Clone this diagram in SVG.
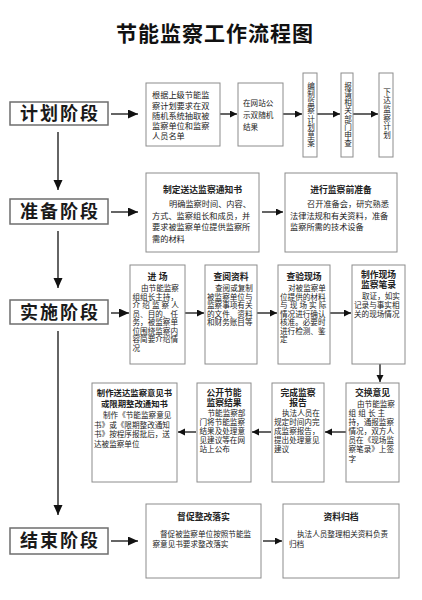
<svg xmlns="http://www.w3.org/2000/svg" width="422" height="600" viewBox="0 0 422 600">
<style>
text{font-family:"Liberation Sans","Noto Sans CJK SC",sans-serif;fill:#222;dominant-baseline:central}
.box{fill:#fff;stroke:#8c8c8c;stroke-width:1}
.phase{fill:#fff;stroke:#6e6e6e;stroke-width:1.5}
.pt{font-size:18px;font-weight:bold;letter-spacing:2px;text-anchor:middle;fill:#1a1a1a}
.title{font-size:21px;font-weight:bold;letter-spacing:1px;text-anchor:middle;fill:#111}
.h{font-size:8.8px;font-weight:bold;text-anchor:middle}
.t{font-size:8.2px}
.s{font-size:7.6px}
.v{font-size:7.6px;writing-mode:vertical-rl}
.ln{stroke:#111;stroke-width:1.3;fill:none}
.ar{stroke:#111;stroke-width:1.3;fill:none;marker-end:url(#ah)}
.arb{stroke:#111;stroke-width:1.3;fill:none;marker-end:url(#ahb)}
</style>
<defs>
<marker id="ah" markerUnits="userSpaceOnUse" markerWidth="8" markerHeight="8" refX="7" refY="3.5" orient="auto"><path d="M0,0 L7,3.5 L0,7 Z" fill="#111"/></marker>
<marker id="ahb" markerUnits="userSpaceOnUse" markerWidth="11" markerHeight="10" refX="10" refY="4.5" orient="auto"><path d="M0,0 L10,4.5 L0,9 Z" fill="#111"/></marker>
</defs>
<rect width="422" height="600" fill="#fff"/>
<text class="title" x="215" y="33">节能监察工作流程图</text>

<g id="connectors">
<path class="arb" d="M58,132 V190"/>
<path class="arb" d="M58,231 V288"/>
<path class="arb" d="M58,331 V515"/>
<path class="arb" d="M111,114 H138"/>
<path class="ar" d="M220,114 H237"/>
<path class="ar" d="M283,114 H302"/>
<path class="ar" d="M317,114 H340"/>
<path class="ar" d="M353,114 H378"/>
<path class="arb" d="M111,212 H138"/>
<path class="ar" d="M262,212 H283"/>
<path class="arb" d="M111,313 H129"/>
<path class="ar" d="M185,313 H204"/>
<path class="ar" d="M257,313 H277"/>
<path class="ar" d="M330,313 H351"/>
<path class="ar" d="M380,364 V382"/>
<path class="ar" d="M346,432 H325"/>
<path class="ar" d="M271,432 H252"/>
<path class="ar" d="M196,432 H178"/>
<path class="arb" d="M111,541 H138"/>
<path class="ar" d="M263,541 H282"/>
</g>

<g id="phase-plan"><rect class="phase" x="10" y="102" width="98" height="23"/><text class="pt" x="60" y="114">计划阶段</text></g>
<g id="phase-prep"><rect class="phase" x="10" y="199" width="98" height="25"/><text class="pt" x="60" y="212">准备阶段</text></g>
<g id="phase-impl"><rect class="phase" x="10" y="300" width="98" height="24"/><text class="pt" x="60" y="313">实施阶段</text></g>
<g id="phase-end"><rect class="phase" x="10" y="528" width="98" height="26"/><text class="pt" x="60" y="541">结束阶段</text></g>

<g id="plan-1"><rect class="box" x="146" y="83" width="74" height="63"/>
<text class="t"><tspan x="152" y="95">根据上级节能监</tspan><tspan x="152" y="105.5">察计划要求在双</tspan><tspan x="152" y="115.5">随机系统抽取被</tspan><tspan x="152" y="125.5">监察单位和监察</tspan><tspan x="152" y="136">人员名单</tspan></text></g>
<g id="plan-2"><rect class="box" x="238" y="83" width="45" height="63"/>
<text class="s"><tspan x="243" y="103">在网站公</tspan><tspan x="243" y="115">示双随机</tspan><tspan x="243" y="126.5">结果</tspan></text></g>
<g id="plan-3"><rect class="box" x="303" y="73" width="14" height="84"/>
<text class="v" x="310" y="82" style="letter-spacing:0.65px">编制监察计划草案</text></g>
<g id="plan-4"><rect class="box" x="341" y="73" width="12" height="84"/>
<text class="v" x="347" y="82" style="letter-spacing:0.65px">报请相关部门申查</text></g>
<g id="plan-5"><rect class="box" x="379" y="73" width="14" height="84"/>
<text class="v" x="386" y="88" style="letter-spacing:1.1px">下达监察计划</text></g>

<g id="prep-1"><rect class="box" x="146" y="173" width="113" height="79"/>
<text class="h" x="202.5" y="190">制定送达监察通知书</text>
<text class="t"><tspan x="169" y="204">明确监察时间、内容、</tspan><tspan x="152" y="215.5">方式、监察组长和成员，并</tspan><tspan x="152" y="227">要求被监察单位提供监察所</tspan><tspan x="152" y="238.5">需的材料</tspan></text></g>
<g id="prep-2"><rect class="box" x="285" y="173" width="112" height="79"/>
<text class="h" x="341" y="190">进行监察前准备</text>
<text class="t"><tspan x="307" y="204">召开准备会，研究熟悉</tspan><tspan x="290" y="215.5">法律法规和有关资料，准备</tspan><tspan x="290" y="227">监察所需的技术设备</tspan></text></g>

<g id="impl-1"><rect class="box" x="130" y="265" width="55" height="99"/>
<text class="h" x="157.5" y="277">进 场</text>
<text class="s"><tspan x="141" y="288">由节能监察</tspan><tspan x="132.5" y="296.5">组组长主持，</tspan><tspan x="132.5" y="305">介 绍 监 察 人</tspan><tspan x="132.5" y="313.5">员、目的、任</tspan><tspan x="132.5" y="322">务，被监察单</tspan><tspan x="132.5" y="330.5">位围绕监察内</tspan><tspan x="132.5" y="339">容简要介绍情</tspan><tspan x="132.5" y="347.5">况</tspan></text></g>
<g id="impl-2"><rect class="box" x="205" y="265" width="52" height="99"/>
<text class="h" x="231" y="277">查阅资料</text>
<text class="s"><tspan x="215" y="288">查阅或复制</tspan><tspan x="207" y="296.5">被监察单位与</tspan><tspan x="207" y="305">监察事项有关</tspan><tspan x="207" y="313.5">的文件、资料</tspan><tspan x="207" y="322">和财务账目等</tspan></text></g>
<g id="impl-3"><rect class="box" x="278" y="265" width="52" height="99"/>
<text class="h" x="304" y="277">查验现场</text>
<text class="s"><tspan x="288" y="288">对被监察单</tspan><tspan x="280" y="296.5">位提供的材料</tspan><tspan x="280" y="305">与 现 场 实 际</tspan><tspan x="280" y="313.5">情况进行确认</tspan><tspan x="280" y="322">核准。必要时</tspan><tspan x="280" y="330.5">进行检测、鉴</tspan><tspan x="280" y="339">定</tspan></text></g>
<g id="impl-4"><rect class="box" x="352" y="265" width="53" height="99"/>
<text class="h"><tspan x="378.5" y="274.5">制作现场</tspan><tspan x="378.5" y="284.5">监察笔录</tspan></text>
<text class="s"><tspan x="362" y="296">取证，如实</tspan><tspan x="354" y="305">记录与事实相</tspan><tspan x="354" y="313.5">关的现场情况</tspan></text></g>

<g id="impl-5"><rect class="box" x="346" y="383" width="53" height="99"/>
<text class="h" x="372.5" y="393">交换意见</text>
<text class="s"><tspan x="357" y="404">由节能监察</tspan><tspan x="348.5" y="413">组 组 长 主</tspan><tspan x="348.5" y="422">持，通报监察</tspan><tspan x="348.5" y="431">情况，双方人</tspan><tspan x="348.5" y="440">员在《现场监</tspan><tspan x="348.5" y="449">察笔录》上签</tspan><tspan x="348.5" y="458.5">字</tspan></text></g>
<g id="impl-6"><rect class="box" x="272" y="383" width="52" height="99"/>
<text class="h"><tspan x="298" y="392.5">完成监察</tspan><tspan x="298" y="402.5">报告</tspan></text>
<text class="s"><tspan x="282" y="413">执法人员在</tspan><tspan x="274" y="422">规定时间内完</tspan><tspan x="274" y="431">成监察报告，</tspan><tspan x="274" y="440">提出处理意见</tspan><tspan x="274" y="449">建议</tspan></text></g>
<g id="impl-7"><rect class="box" x="197" y="383" width="54" height="99"/>
<text class="h"><tspan x="224" y="392.5">公开节能</tspan><tspan x="224" y="402.5">监察结果</tspan></text>
<text class="s"><tspan x="207.5" y="413">节能监察部</tspan><tspan x="199.5" y="422">门将节能监察</tspan><tspan x="199.5" y="431">结果及处理意</tspan><tspan x="199.5" y="440">见建议等在网</tspan><tspan x="199.5" y="449">站上公布</tspan></text></g>
<g id="impl-8"><rect class="box" x="92" y="383" width="85" height="99"/>
<text class="h" style="font-size:8.4px"><tspan x="134.5" y="393">制作送达监察意见书</tspan><tspan x="134.5" y="403.5">或限期整改通知书</tspan></text>
<text class="s"><tspan x="103" y="415">制作《节能监察意见</tspan><tspan x="94" y="424.5">书》或《限期整改通知</tspan><tspan x="94" y="434">书》按程序报批后，送</tspan><tspan x="94" y="443.5">达被监察单位</tspan></text></g>

<g id="end-1"><rect class="box" x="146" y="504" width="115" height="74"/>
<text class="h" x="203.5" y="517">督促整改落实</text>
<text class="s"><tspan x="160" y="534">督促被监察单位按照节能监</tspan><tspan x="152.5" y="544">察意见书要求整改落实</tspan></text></g>
<g id="end-2"><rect class="box" x="283" y="504" width="116" height="74"/>
<text class="h" x="341" y="517">资料归档</text>
<text class="s"><tspan x="297" y="534">执法人员整理相关资料负责</tspan><tspan x="289" y="544">归档</tspan></text></g>
</svg>
